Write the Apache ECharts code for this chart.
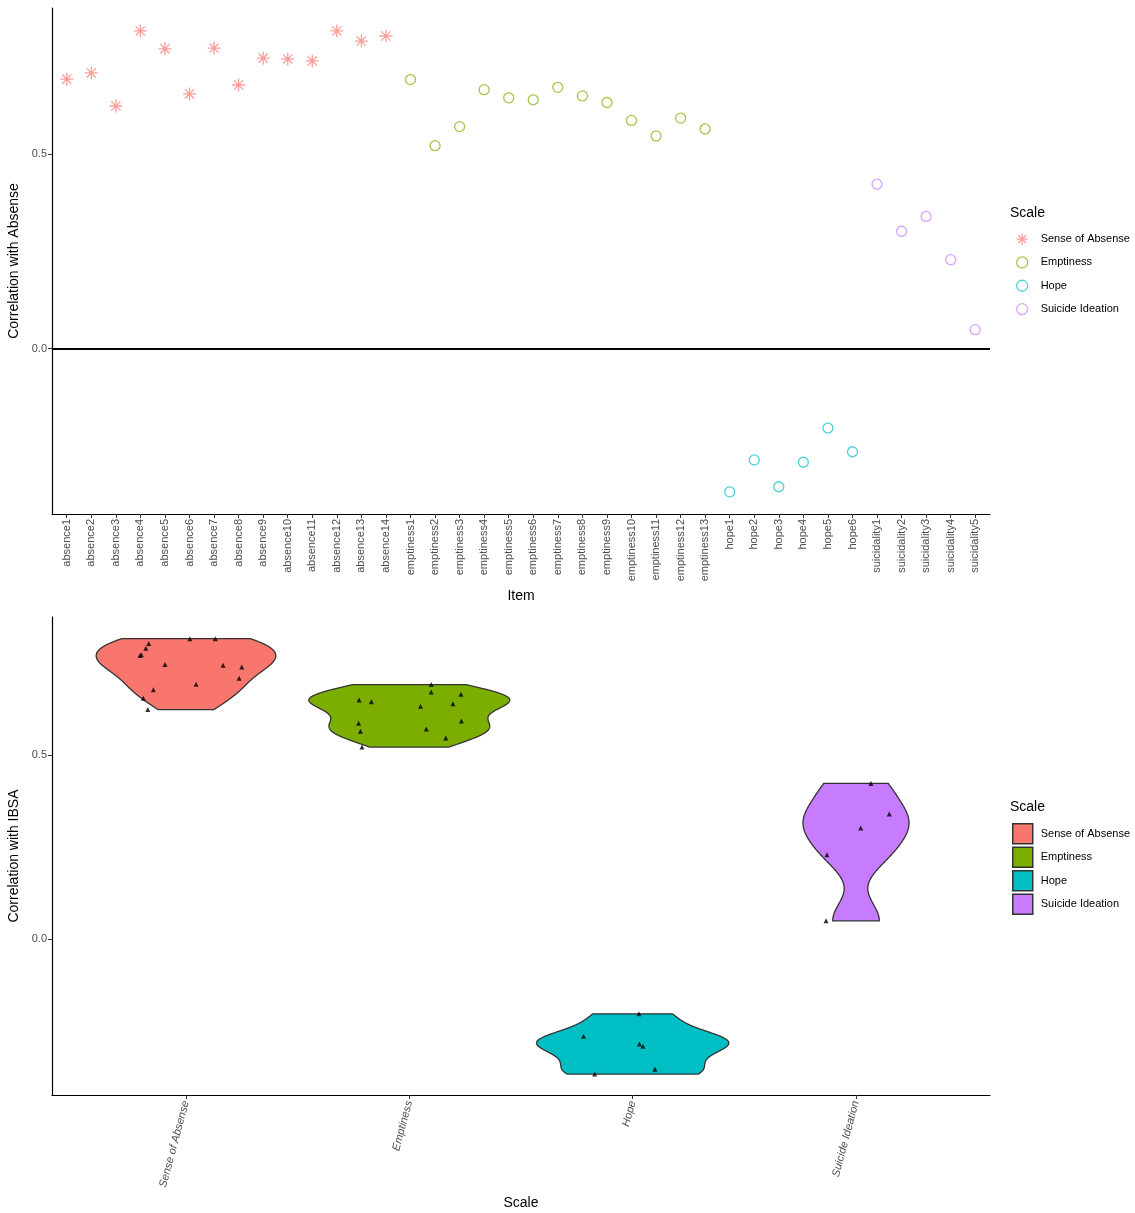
<!DOCTYPE html>
<html>
<head>
<meta charset="utf-8">
<script src="https://cdn.jsdelivr.net/npm/echarts@6/dist/echarts.min.js"></script>
<style>
html,body{margin:0;padding:0;background:#fff;}
#chart{width:1135px;height:1213px;}
</style>
</head>
<body>
<div id="chart"></div>
<script>
// ---------- data ----------
const items = ['absence1','absence2','absence3','absence4','absence5','absence6','absence7','absence8','absence9','absence10','absence11','absence12','absence13','absence14',
  'emptiness1','emptiness2','emptiness3','emptiness4','emptiness5','emptiness6','emptiness7','emptiness8','emptiness9','emptiness10','emptiness11','emptiness12','emptiness13',
  'hope1','hope2','hope3','hope4','hope5','hope6',
  'suicidality1','suicidality2','suicidality3','suicidality4','suicidality5'];
const scaleNames = ['Sense of Absense','Emptiness','Hope','Suicide Ideation'];
const absence = [0.693, 0.709, 0.624, 0.817, 0.771, 0.655, 0.773, 0.678, 0.747, 0.745, 0.740, 0.817, 0.791, 0.804];
const emptiness = [0.692, 0.522, 0.571, 0.666, 0.645, 0.640, 0.672, 0.650, 0.633, 0.587, 0.547, 0.593, 0.565];
const hope = [-0.368, -0.286, -0.355, -0.292, -0.204, -0.265];
const suicidality = [0.423, 0.302, 0.340, 0.229, 0.049];
// horizontal jitter of the points in the lower panel
const absenceJitter = [0.045, 0.238, -0.171, 0.017, -0.206, -0.191, -0.2, -0.146, -0.094, 0.166, 0.25, 0.131, -0.18, -0.167];
const emptinessJitter = [0.098, -0.212, 0.076, 0.231, -0.17, 0.195, 0.098, -0.225, 0.05, -0.227, 0.163, 0.233, -0.219];
const hopeJitter = [-0.17, 0.03, 0.10, 0.046, 0.028, -0.22];
const suicidalityJitter = [0.067, 0.021, 0.149, -0.13, -0.134];
const yTicks = [0, 0.5];

// ---------- helpers ----------
const colors = ['#F8766D','#7CAE00','#00BFC4','#C77CFF'];
const groups = [absence, emptiness, hope, suicidality];
const jitters = [absenceJitter, emptinessJitter, hopeJitter, suicidalityJitter];
const FONT = '"Liberation Sans", Arial, Helvetica, sans-serif';
const STAR = 'path://M5 0L5 10M0 5L10 5M1.46 1.46L8.54 8.54M1.46 8.54L8.54 1.46';

function quantile7(sorted, p){
  const h = (sorted.length - 1) * p;
  const lo = Math.floor(h), hi = Math.ceil(h);
  return sorted[lo] + (h - lo) * (sorted[hi] - sorted[lo]);
}
function bwNrd0(x){
  const n = x.length;
  const m = x.reduce((a,b)=>a+b,0)/n;
  const sd = Math.sqrt(x.reduce((a,b)=>a+(b-m)*(b-m),0)/(n-1));
  const s = x.slice().sort((a,b)=>a-b);
  const iqr = quantile7(s,0.75) - quantile7(s,0.25);
  let lo = Math.min(sd, iqr/1.34);
  if (!(lo > 0)) lo = sd || Math.abs(s[0]) || 1;
  return 0.9 * lo * Math.pow(n, -0.2);
}
const NPTS = 512;
const dens = groups.map(g => {
  const bw = bwNrd0(g);
  const mn = Math.min(...g), mx = Math.max(...g);
  const ys = [], ds = [];
  for (let k = 0; k < NPTS; k++){
    const y = mn + (mx - mn) * k / (NPTS - 1);
    let d = 0;
    for (const v of g){ const z = (y - v) / bw; d += Math.exp(-0.5*z*z); }
    d = d / (g.length * bw * Math.sqrt(2*Math.PI));
    ys.push(y); ds.push(d);
  }
  return {ys, ds};
});
const maxDens = Math.max(...dens.map(o => Math.max(...o.ds)));

// top panel series data
let offset = 0;
const topSeries = groups.map((g, gi) => {
  const start = offset; offset += g.length;
  const isStar = gi === 0;
  return {
    type: 'scatter', name: scaleNames[gi], xAxisIndex: 0, yAxisIndex: 0,
    data: g.map((v, i) => [start + i, v]),
    symbol: isStar ? STAR : 'circle',
    symbolSize: isStar ? 13 : 10,
    itemStyle: {color: 'rgba(0,0,0,0)', borderColor: colors[gi], borderWidth: 1.3, opacity: 0.7},
    emphasis: {disabled: true}, silent: true, z: 3
  };
});
topSeries[0].markLine = {
  silent: true, symbol: 'none', label: {show: false},
  lineStyle: {color: '#000', width: 2, type: 'solid', opacity: 1},
  data: [{yAxis: 0}]
};

const violinSeries = groups.map((g, gi) => ({
  type: 'custom', name: scaleNames[gi], xAxisIndex: 1, yAxisIndex: 1,
  data: [[gi, g[0]]],
  itemStyle: {color: colors[gi]},
  renderItem: function(params, api){
    const c = api.value(0);
    const o = dens[c];
    const pts = [];
    for (let k = 0; k < NPTS; k++) pts.push(api.coord([c - 0.45 * o.ds[k] / maxDens, o.ys[k]]));
    for (let k = NPTS - 1; k >= 0; k--) pts.push(api.coord([c + 0.45 * o.ds[k] / maxDens, o.ys[k]]));
    return {type: 'polygon', shape: {points: pts}, style: {fill: colors[c], stroke: '#333333', lineWidth: 1.3}};
  },
  emphasis: {disabled: true}, silent: true, z: 2
}));

const jitterPts = [];
groups.forEach((g, gi) => g.forEach((v, i) => jitterPts.push([gi + jitters[gi][i], v])));
const pointSeries = {
  type: 'scatter', name: 'points', xAxisIndex: 1, yAxisIndex: 1,
  data: jitterPts, symbol: 'triangle', symbolSize: 5,
  itemStyle: {color: '#000'}, emphasis: {disabled: true}, silent: true, z: 5
};

const axisLabelStyle = {color: '#4d4d4d', fontSize: 11, fontFamily: FONT};
const axisLineStyle = {show: true, onZero: false, lineStyle: {color: '#000', width: 1.2}};
const axisTickStyle = (vals) => ({show: true, length: 4, lineStyle: {color: '#333', width: 1}, customValues: vals});
const nameStyle = {color: '#000', fontSize: 14, fontFamily: FONT};

const option = {
  animation: false,
  backgroundColor: '#fff',
  grid: [
    {left: 52, top: 8, width: 938, height: 506, containLabel: false, outerBoundsMode: 'none'},
    {left: 52, top: 617, width: 938, height: 478, containLabel: false, outerBoundsMode: 'none'}
  ],
  xAxis: [
    {
      type: 'value', gridIndex: 0, min: -0.6, max: items.length - 1 + 0.6, position: 'bottom',
      axisLine: axisLineStyle, axisTick: axisTickStyle(items.map((_, i) => i)),
      splitLine: {show: false},
      axisLabel: Object.assign({}, axisLabelStyle, {rotate: 90, margin: 5, customValues: items.map((_, i) => i),
        formatter: v => items[Math.round(v)] || ''}),
      name: 'Item', nameLocation: 'middle', nameGap: 75, nameTextStyle: nameStyle
    },
    {
      type: 'value', gridIndex: 1, min: -0.6, max: scaleNames.length - 1 + 0.6, position: 'bottom',
      axisLine: axisLineStyle, axisTick: axisTickStyle(scaleNames.map((_, i) => i)),
      splitLine: {show: false},
      axisLabel: Object.assign({}, axisLabelStyle, {rotate: 75, margin: 6, fontStyle: 'italic', customValues: scaleNames.map((_, i) => i),
        formatter: v => scaleNames[Math.round(v)] || ''}),
      name: 'Scale', nameLocation: 'middle', nameGap: 101, nameTextStyle: nameStyle
    }
  ],
  yAxis: [
    {
      type: 'value', gridIndex: 0, min: -0.425, max: 0.876, position: 'left',
      axisLine: axisLineStyle, axisTick: axisTickStyle(yTicks), splitLine: {show: false},
      axisLabel: Object.assign({}, axisLabelStyle, {margin: 5, customValues: yTicks, formatter: v => v.toFixed(1)}),
      name: 'Correlation with Absense', nameLocation: 'middle', nameGap: 23, nameTextStyle: nameStyle
    },
    {
      type: 'value', gridIndex: 1, min: -0.425, max: 0.876, position: 'left',
      axisLine: axisLineStyle, axisTick: axisTickStyle(yTicks), splitLine: {show: false},
      axisLabel: Object.assign({}, axisLabelStyle, {margin: 5, customValues: yTicks, formatter: v => v.toFixed(1)}),
      name: 'Correlation with IBSA', nameLocation: 'middle', nameGap: 23, nameTextStyle: nameStyle
    }
  ],
  legend: [
    {
      orient: 'vertical', left: 1016, top: 233, padding: 0, itemGap: 11, itemWidth: 11, itemHeight: 11,
      selectedMode: false,
      textStyle: {color: '#000', fontSize: 11, fontFamily: FONT, padding: [0, 0, 0, 8]},
      data: scaleNames.map((n, i) => ({
        name: n, icon: i === 0 ? STAR : 'circle',
        itemStyle: {color: 'rgba(0,0,0,0)', borderColor: colors[i], borderWidth: 1.3, opacity: 0.7}
      }))
    },
    {
      orient: 'vertical', left: 1012, top: 823, padding: 0, itemGap: 2, itemWidth: 20, itemHeight: 20,
      selectedMode: false,
      textStyle: {color: '#000', fontSize: 11, fontFamily: FONT, padding: [0, 0, 0, 3]},
      data: scaleNames.map((n, i) => ({
        name: n, icon: 'rect',
        itemStyle: {color: colors[i], borderColor: '#333333', borderWidth: 1.5, opacity: 1}
      }))
    }
  ],
  graphic: [
    {type: 'text', left: 1010, top: 206, style: {text: 'Scale', fill: '#000', font: '14px ' + FONT}},
    {type: 'text', left: 1010, top: 800, style: {text: 'Scale', fill: '#000', font: '14px ' + FONT}}
  ],
  series: topSeries.concat(violinSeries).concat([pointSeries])
};

const chart = echarts.init(document.getElementById('chart'), null, {renderer: 'canvas'});
chart.setOption(option);
</script>
</body>
</html>
